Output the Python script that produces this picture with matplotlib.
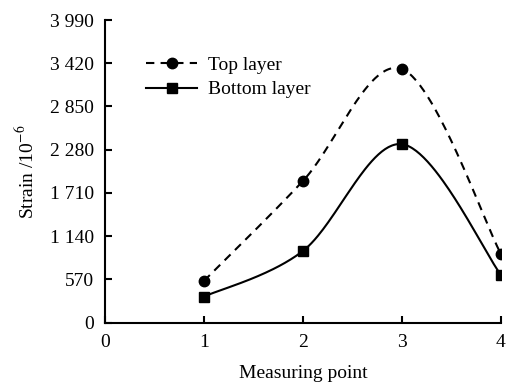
import numpy as np
import matplotlib
matplotlib.use('Agg')
import matplotlib.pyplot as plt
from matplotlib.ticker import FuncFormatter

plt.rcParams['font.family'] = ['Liberation Serif', 'DejaVu Serif']
plt.rcParams['mathtext.fontset'] = 'stix'

points = [1, 2, 3, 4]
top_layer = [550, 1868, 3344, 905]
bottom_layer = [343, 945, 2353, 629]
yticks = [0, 570, 1140, 1710, 2280, 2850, 3420, 3990]
xticks = [0, 1, 2, 3, 4]


def smooth(x, y, n=60):
    # excel style smoothed line (catmull-rom through the points)
    x = np.asarray(x, float)
    y = np.asarray(y, float)
    px = np.concatenate([[x[0]], x, [x[-1]]])
    py = np.concatenate([[y[0]], y, [y[-1]]])
    xs, ys = [], []
    t = np.linspace(0, 1, n)
    for i in range(1, len(px) - 2):
        p0, p1, p2, p3 = [np.array([px[j], py[j]]) for j in (i - 1, i, i + 1, i + 2)]
        c1 = p1 + (p2 - p0) / 6.0
        c2 = p2 - (p3 - p1) / 6.0
        b = ((1 - t) ** 3)[:, None] * p1 + (3 * (1 - t) ** 2 * t)[:, None] * c1 \
            + (3 * (1 - t) * t ** 2)[:, None] * c2 + (t ** 3)[:, None] * p2
        xs.append(b[:, 0])
        ys.append(b[:, 1])
    return np.concatenate(xs), np.concatenate(ys)


fig = plt.figure(figsize=(5.07, 3.85), dpi=100)
ax = fig.add_axes([0.207, 0.162, 0.781, 0.786])

dash = (4, 3)
sx, sy = smooth(points, top_layer)
ax.plot(sx, sy, color='k', lw=1.5, dashes=dash)
ax.plot(points, top_layer, 'o', color='k', ms=7.5)
sx, sy = smooth(points, bottom_layer)
ax.plot(sx, sy, color='k', lw=1.5)
ax.plot(points, bottom_layer, 's', color='k', ms=7)

# legend proxies
h1, = ax.plot([], [], color='k', lw=1.5, dashes=dash, marker='o', ms=7.5)
h2, = ax.plot([], [], color='k', lw=1.5, marker='s', ms=7)
ax.legend([h1, h2], ['Top layer', 'Bottom layer'], loc='upper left',
          bbox_to_anchor=(0.08, 0.912), frameon=False, fontsize=14,
          handlelength=2.6, handletextpad=0.55, labelspacing=0.35, borderpad=0)

ax.set_xlim(0, 4)
ax.set_ylim(0, 3990)
ax.set_xticks(xticks)
ax.set_yticks(yticks)
ax.yaxis.set_major_formatter(FuncFormatter(lambda v, p: '{:,}'.format(int(v)).replace(',', ' ')))
ax.tick_params(direction='in', length=5, width=1.5, labelsize=14, pad=8)
for s in ['top', 'right']:
    ax.spines[s].set_visible(False)
for s in ['left', 'bottom']:
    ax.spines[s].set_linewidth(1.5)
ax.set_xlabel('Measuring point', fontsize=14, labelpad=10)
ax.set_ylabel('Strain /10$^{-6}$', fontsize=14, labelpad=9)

fig.savefig('out.png', dpi=100)
